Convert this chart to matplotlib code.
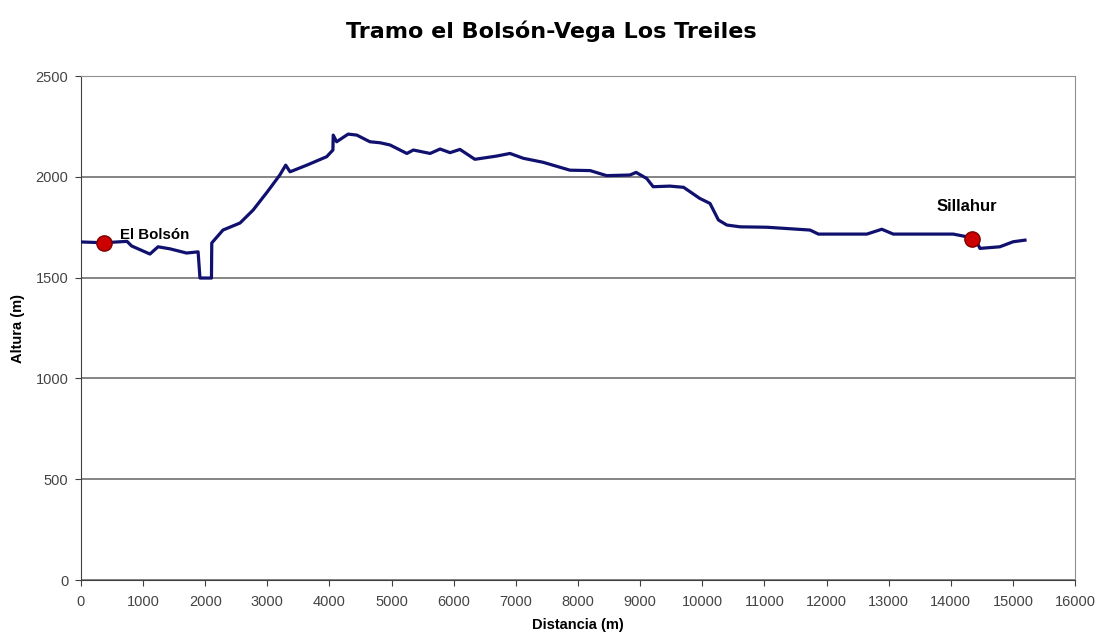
import matplotlib.pyplot as plt

# elevation profile
distancia = [0, 370, 740, 815, 1110, 1240, 1430, 1700, 1885, 1915, 2100, 2105,
             2285, 2560, 2770, 3000, 3200, 3295, 3365, 3635, 3955, 4055, 4060, 4115,
             4300, 4440, 4650, 4815, 4975, 5245, 5350, 5620, 5780, 5940, 6100,
             6340, 6690, 6905, 7120, 7440, 7870, 8195, 8460, 8835, 8935, 9105,
             9210, 9480, 9700, 9960, 10125, 10260, 10395, 10610, 11040, 11735,
             11870, 12650, 12890, 13075, 14040, 14255, 14400, 14470, 14790,
             15005, 15195]
altura = [1677, 1673, 1680, 1657, 1617, 1653, 1643, 1622, 1628, 1498, 1498, 1672,
          1736, 1771, 1835, 1926, 2009, 2058, 2025, 2058, 2100, 2133, 2207, 2174,
          2212, 2207, 2174, 2169, 2158, 2116, 2133, 2116, 2138, 2120, 2136,
          2087, 2103, 2116, 2092, 2072, 2033, 2031, 2006, 2009, 2022, 1992,
          1951, 1954, 1948, 1893, 1868, 1786, 1761, 1752, 1750, 1736,
          1716, 1716, 1740, 1716, 1716, 1703, 1690, 1645, 1653,
          1678, 1686]

puntos_nombre = ["El Bolsón", "Sillahur"]
puntos_x = [370, 14335]
puntos_y = [1673, 1692]

fig = plt.figure(figsize=(11.02, 6.39), dpi=100)
ax = fig.add_axes([0.0735, 0.0923, 0.902, 0.7887])

ax.plot(distancia, altura, color='#10106e', linewidth=2.3, zorder=3)
ax.plot(puntos_x, puntos_y, 'o', color='#cc0000', markeredgecolor='#7a0000',
        markersize=11, zorder=4)

# point labels
ax.text(628, 1711, puntos_nombre[0], fontsize=10.8, fontweight='bold',
        family='Liberation Sans', va='center', ha='left')
ax.text(14262, 1855, puntos_nombre[1], fontsize=12, fontweight='bold',
        family='Liberation Sans', va='center', ha='center')

ax.set_xlim(0, 16000)
ax.set_ylim(0, 2500)
ax.set_xticks(range(0, 16001, 1000))
ax.set_yticks(range(0, 2501, 500))
ax.grid(axis='y', color='#707070', linewidth=1.2)
ax.set_axisbelow(True)
for s in ['top', 'right']:
    ax.spines[s].set_color('#909090')
for s in ['left', 'bottom']:
    ax.spines[s].set_color('#404040')
ax.tick_params(labelsize=10.5, labelcolor='#444444', direction='out', length=4,
               color='#404040')
ax.tick_params(axis='x', pad=7)
ax.tick_params(axis='y', pad=5)
for lbl in ax.get_xticklabels() + ax.get_yticklabels():
    lbl.set_family('Liberation Sans')

ax.set_xlabel("Distancia (m)", fontsize=10.5, fontweight='bold',
              family='Liberation Sans', labelpad=6)
ax.set_ylabel("Altura (m)", fontsize=10.5, fontweight='bold',
              family='Liberation Sans', labelpad=8)

fig.text(0.5, 0.9515, "Tramo el Bolsón-Vega Los Treiles", fontsize=16,
         fontweight='bold', family='DejaVu Sans', ha='center', va='center')

fig.savefig("out.png", dpi=100)
